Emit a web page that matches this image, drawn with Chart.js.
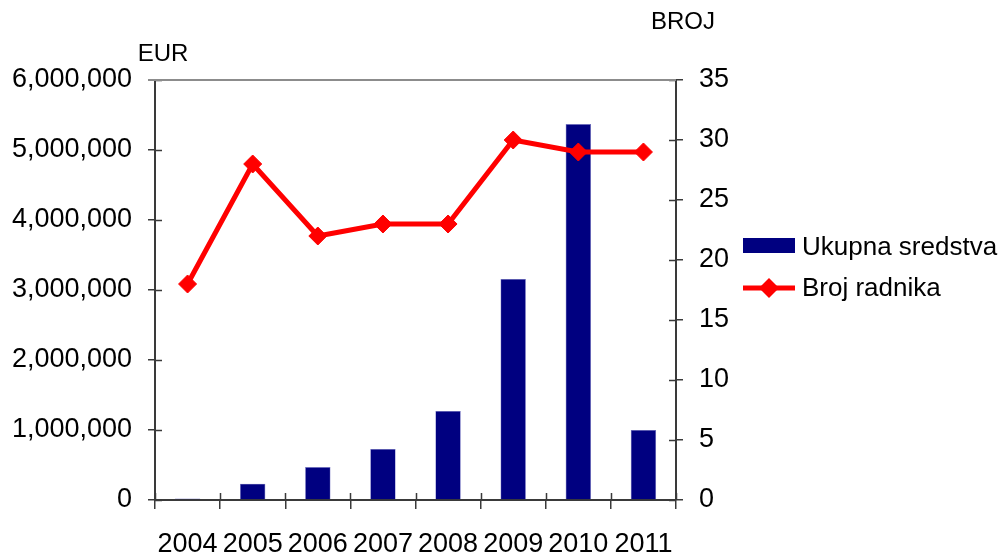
<!DOCTYPE html>
<html>
<head>
<meta charset="utf-8">
<style>
  html, body { margin: 0; padding: 0; background: #fff; }
  canvas { display: block; }
</style>
<script src="https://cdn.jsdelivr.net/npm/chart.js@4/dist/chart.umd.min.js"></script>
</head>
<body>
<canvas id="chart" width="1008" height="555"></canvas>
<script>
var years = ["2004", "2005", "2006", "2007", "2008", "2009", "2010", "2011"];
var ukupnaSredstva = [20000, 233000, 471000, 729000, 1273000, 3157000, 5370000, 1000000];
var brojRadnika = [18, 28, 22, 23, 23, 30, 29, 29];
var eurTicks = { min: 0, max: 6000000, step: 1000000 };
var brojTicks = { min: 0, max: 35, step: 5 };

var FONT = "'Liberation Sans', Arial, sans-serif";

// ticks that cross the axis lines, top border, axis titles and legend
var extras = {
    id: "extras",
    afterDraw: function (chart) {
        var ctx = chart.ctx;
        var area = chart.chartArea;
        var yl = chart.scales.y;
        var yr = chart.scales.y1;
        var tl = 7;

        ctx.save();
        ctx.strokeStyle = "#3a3a3a";
        ctx.lineWidth = 1.5;
        ctx.beginPath();
        yl.ticks.forEach(function (t) {
            var py = Math.round(yl.getPixelForValue(t.value)) + 0.5;
            ctx.moveTo(area.left, py);
            ctx.lineTo(area.left + tl, py);
        });
        yr.ticks.forEach(function (t) {
            var py = Math.round(yr.getPixelForValue(t.value)) + 0.5;
            ctx.moveTo(area.right, py);
            ctx.lineTo(area.right - tl, py);
        });
        var n = chart.data.labels.length;
        for (var i = 0; i <= n; i++) {
            var px = Math.round(area.left + i * (area.right - area.left) / n) + 0.5;
            ctx.moveTo(px, area.bottom);
            ctx.lineTo(px, area.bottom - tl);
        }
        ctx.stroke();

        // top border
        ctx.strokeStyle = "#8c8c8c";
        ctx.lineWidth = 2;
        ctx.beginPath();
        ctx.moveTo(area.left - tl, area.top);
        ctx.lineTo(area.right, area.top);
        ctx.stroke();

        // axis titles
        ctx.fillStyle = "#000";
        ctx.font = "24px " + FONT;
        ctx.textAlign = "center";
        ctx.textBaseline = "middle";
        ctx.fillText("EUR", area.left + 8, 54);
        ctx.fillText("BROJ", area.right + 7, 22);

        // legend
        var ds = chart.data.datasets;
        var lx = 743, lw = 52;
        ctx.fillStyle = ds[0].backgroundColor;
        ctx.fillRect(lx, 238, lw, 15);
        ctx.strokeStyle = ds[1].borderColor;
        ctx.lineWidth = 5;
        ctx.beginPath();
        ctx.moveTo(lx, 288);
        ctx.lineTo(lx + lw, 288);
        ctx.stroke();
        ctx.fillStyle = ds[1].borderColor;
        ctx.beginPath();
        var cx = lx + lw / 2, r = 10;
        ctx.moveTo(cx - r, 288);
        ctx.lineTo(cx, 288 - r);
        ctx.lineTo(cx + r, 288);
        ctx.lineTo(cx, 288 + r);
        ctx.closePath();
        ctx.fill();

        ctx.fillStyle = "#000";
        ctx.font = "26px " + FONT;
        ctx.textAlign = "left";
        ctx.fillText(ds[0].label, 802, 248);
        ctx.fillText(ds[1].label, 802, 289);
        ctx.restore();
    }
};

new Chart(document.getElementById("chart").getContext("2d"), {
    type: "bar",
    data: {
        labels: years,
        datasets: [
            {
                type: "bar",
                label: "Ukupna sredstva",
                data: ukupnaSredstva,
                backgroundColor: "#000080",
                borderColor: "#6f6fc0",
                borderWidth: 0.6,
                yAxisID: "y",
                categoryPercentage: 1,
                barPercentage: 0.39,
                order: 2
            },
            {
                type: "line",
                label: "Broj radnika",
                data: brojRadnika,
                borderColor: "#ff0000",
                backgroundColor: "#ff0000",
                borderWidth: 5,
                pointStyle: "rectRot",
                pointRadius: 9,
                pointBorderWidth: 1,
                pointBackgroundColor: "#ff0000",
                tension: 0,
                yAxisID: "y1",
                order: 1
            }
        ]
    },
    options: {
        responsive: false,
        animation: false,
        layout: { padding: { top: 80, right: 252, bottom: 0, left: 0 } },
        plugins: {
            legend: { display: false },
            tooltip: { enabled: false }
        },
        scales: {
            x: {
                offset: true,
                grid: { offset: true, drawOnChartArea: false, drawTicks: true, tickLength: 9, color: "#3a3a3a", lineWidth: 1.5 },
                border: { display: true, color: "#3a3a3a", width: 2 },
                ticks: { color: "#000", font: { family: FONT, size: 27 }, padding: 19, maxRotation: 0, autoSkip: false },
                afterFit: function (s) { s.height = 55; }
            },
            y: {
                position: "left",
                min: eurTicks.min,
                max: eurTicks.max,
                grid: { drawOnChartArea: false, drawTicks: true, tickLength: 7, color: "#3a3a3a", lineWidth: 1.5 },
                border: { display: true, color: "#3a3a3a", width: 2 },
                ticks: {
                    stepSize: eurTicks.step,
                    color: "#000",
                    font: { family: FONT, size: 27 },
                    padding: 16,
                    callback: function (v) { return v.toLocaleString("en-US"); }
                },
                afterFit: function (s) { s.width = 155; }
            },
            y1: {
                position: "right",
                min: brojTicks.min,
                max: brojTicks.max,
                grid: { drawOnChartArea: false, drawTicks: true, tickLength: 7, color: "#3a3a3a", lineWidth: 1.5 },
                border: { display: true, color: "#3a3a3a", width: 2 },
                ticks: { stepSize: brojTicks.step, color: "#000", font: { family: FONT, size: 27 }, padding: 16 },
                afterFit: function (s) { s.width = 80; }
            }
        }
    },
    plugins: [extras]
});
</script>
</body>
</html>
